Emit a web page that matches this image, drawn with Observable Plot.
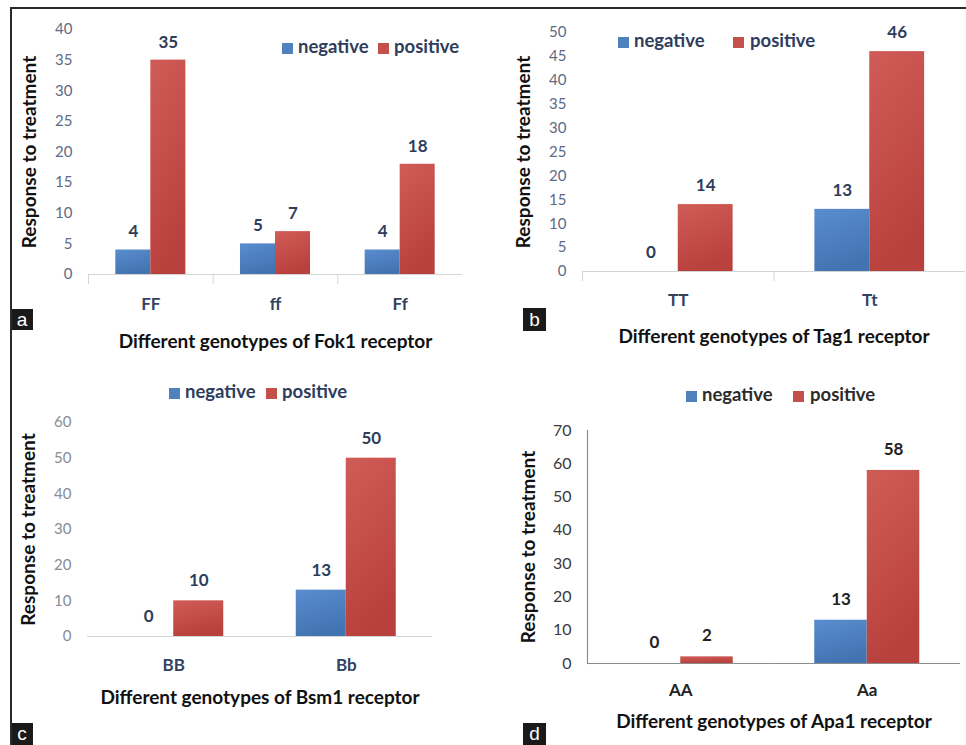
<!DOCTYPE html>
<html>
<head>
<meta charset="utf-8">
<script src="https://cdn.jsdelivr.net/npm/d3@7"></script>
<script src="https://cdn.jsdelivr.net/npm/@observablehq/plot@0.6"></script>
<style>
  html, body { margin: 0; padding: 0; background: #fff; }
  #root { position: relative; width: 966px; height: 745px; overflow: hidden; background: #fff; font-family: Lato, "Open Sans", sans-serif; }
  .panel { position: absolute; }
  .legend { position: absolute; font-weight: bold; font-size: 18.5px; white-space: nowrap; }
  .sw { position: absolute; width: 11px; height: 11px; }
  .lt { position: absolute; line-height: 1; }
  .tag { position: absolute; background: #1a1a1a; color: #fff; font-family: "Liberation Sans", Arial, sans-serif; font-size: 19px; text-align: center; }
  .border { position: absolute; background: #2a2a2a; }
</style>
</head>
<body>
<div id="root"></div>
<script>
// ---------- data ----------
const series = ["negative", "positive"];
const seriesColors = ["#4f81bd", "#c4504c"];
const seriesTop = ["#5a8dcf", "#d05c57"];
const seriesBottom = ["#4374b2", "#b9413d"];

const genotypesA = ["FF", "ff", "Ff"];
const negativeA = [4, 5, 4];
const positiveA = [35, 7, 18];
const ticksA = [0, 5, 10, 15, 20, 25, 30, 35, 40];

const genotypesB = ["TT", "Tt"];
const negativeB = [0, 13];
const positiveB = [14, 46];
const ticksB = [0, 5, 10, 15, 20, 25, 30, 35, 40, 45, 50];

const genotypesC = ["BB", "Bb"];
const negativeC = [0, 13];
const positiveC = [10, 50];
const ticksC = [0, 10, 20, 30, 40, 50, 60];

const genotypesD = ["AA", "Aa"];
const negativeD = [0, 13];
const positiveD = [2, 58];
const ticksD = [0, 10, 20, 30, 40, 50, 60, 70];

const yTitle = "Response to treatment";
const xTitles = [
  "Different genotypes of Fok1 receptor",
  "Different genotypes of Tag1 receptor",
  "Different genotypes of Bsm1 receptor",
  "Different genotypes of Apa1 receptor"
];
const tags = ["a", "b", "c", "d"];

// ---------- layout / style ----------
const panels = [
  {genotypes: genotypesA, neg: negativeA, pos: positiveA, ticks: ticksA,
   left: 0, top: 0, width: 483, height: 360, mL: 88, mR: 21, mT: 29, mB: 86, po: 0.78,
   tickColor: "#5d6a85", tickSize: 15, catColor: "#33425f", valColor: "#2e3d5c", axisColor: "#d4d4d4",
   valDy: -18, catPad: 23, xOff: 73, yOff: 66, sep: true, yLine: false,
   legend: {top: 48, sw1: 282, t1: 298, sw2: 378, t2: 394, color: "#2e3d5c"},
   tag: {x: 11, y: 309, w: 22, h: 21}},
  {genotypes: genotypesB, neg: negativeB, pos: positiveB, ticks: ticksB,
   left: 483, top: 0, width: 483, height: 360, mL: 99, mR: 1, mT: 32, mB: 89, po: 0.745,
   tickColor: "#5d6a85", tickSize: 15, catColor: "#33425f", valColor: "#2e3d5c", axisColor: "#d4d4d4",
   valDy: -19, catPad: 22, xOff: 71, yOff: 66, sep: true, yLine: false,
   legend: {top: 42, sw1: 618, t1: 634, sw2: 733, t2: 750, color: "#2e3d5c"},
   tag: {x: 523, y: 308, w: 23, h: 23}},
  {genotypes: genotypesC, neg: negativeC, pos: positiveC, ticks: ticksC,
   left: 0, top: 360, width: 483, height: 385, mL: 87, mR: 51, mT: 62, mB: 109, po: 0.725,
   tickColor: "#868c98", tickSize: 15, catColor: "#33425f", valColor: "#2e3d5c", axisColor: "#d4d4d4",
   valDy: -20, catPad: 22, xOff: 67, yOff: 66, sep: false, yLine: false,
   legend: {top: 393, sw1: 169, t1: 185, sw2: 266, t2: 282, color: "#2e3d5c"},
   tag: {x: 11, y: 723, w: 22, h: 22}},
  {genotypes: genotypesD, neg: negativeD, pos: positiveD, ticks: ticksD,
   left: 483, top: 360, width: 483, height: 385, mL: 104, mR: 6, mT: 70, mB: 82, po: 0.776,
   tickColor: "#3a3a3a", tickSize: 16, catColor: "#222", valColor: "#222", axisColor: "#8c8c8c",
   valDy: -21, catPad: 20, xOff: 64, yOff: 66, sep: false, yLine: true,
   legend: {top: 396, sw1: 686, t1: 702, sw2: 793, t2: 810, color: "#2b2b2b"},
   tag: {x: 523, y: 723, w: 23, h: 22}}
];

const root = document.getElementById("root");
const SVGNS = "http://www.w3.org/2000/svg";

panels.forEach((p, idx) => {
  const data = p.genotypes.flatMap((g, i) => [
    {g, s: series[0], v: p.neg[i]},
    {g, s: series[1], v: p.pos[i]}
  ]);
  const yMax = p.ticks[p.ticks.length - 1];
  const innerH = p.height - p.mT - p.mB;
  const gradIds = series.map((s, k) => `grad-${idx}-${k}`);
  const marks = [
    Plot.axisY({anchor: "left", ticks: p.ticks, tickSize: 0, tickPadding: 16, fontSize: p.tickSize, fill: p.tickColor, label: null}),
    Plot.axisY({anchor: "left", ticks: [], label: yTitle, labelArrow: "none", labelAnchor: "center", labelOffset: p.yOff, fontSize: 19, fontWeight: "bold", fill: "#111"}),
    Plot.axisFx({anchor: "bottom", tickSize: 0, tickPadding: p.catPad, fontSize: 17, fontWeight: "bold", fill: p.catColor, label: null}),
    Plot.axisFx({anchor: "bottom", ticks: [], label: xTitles[idx], labelArrow: "none", labelAnchor: "center", labelOffset: p.xOff, fontSize: 19, fontWeight: "bold", fill: "#111"}),
    Plot.barY(data, {fx: "g", x: "s", y: "v", fill: "s"}),
    Plot.ruleY([0], {stroke: p.axisColor, strokeWidth: 1.2}),
    Plot.text(data, {fx: "g", x: "s", y: "v", text: d => String(d.v), dy: p.valDy, fontSize: 17, fontWeight: "bold", fill: p.valColor})
  ];
  if (p.sep) marks.push(Plot.frame({anchor: "left", stroke: p.axisColor, insetTop: innerH, insetBottom: -9}));
  if (p.yLine) marks.push(Plot.frame({anchor: "left", stroke: p.axisColor, strokeWidth: 1.2, facet: "super"}));

  const chart = Plot.plot({
    width: p.width, height: p.height,
    marginLeft: p.mL, marginRight: p.mR, marginTop: p.mT, marginBottom: p.mB,
    style: {fontFamily: "Lato, 'Open Sans', sans-serif", background: "transparent", overflow: "visible"},
    fx: {domain: p.genotypes, padding: 0, round: false},
    x: {domain: series, paddingInner: 0, paddingOuter: p.po, round: false, axis: null},
    y: {domain: [0, yMax], round: false},
    color: {domain: series, range: gradIds.map(id => `url(#${id})`)},
    marks
  });
  // gradient definitions for the bar fills
  const defs = document.createElementNS(SVGNS, "defs");
  gradIds.forEach((id, k) => {
    const lg = document.createElementNS(SVGNS, "linearGradient");
    lg.setAttribute("id", id);
    lg.setAttribute("x1", "0"); lg.setAttribute("y1", "0");
    lg.setAttribute("x2", "0.3"); lg.setAttribute("y2", "1");
    [[0, seriesTop[k]], [1, seriesBottom[k]]].forEach(([o, c]) => {
      const st = document.createElementNS(SVGNS, "stop");
      st.setAttribute("offset", o);
      st.setAttribute("stop-color", c);
      lg.appendChild(st);
    });
    defs.appendChild(lg);
  });
  chart.insertBefore(defs, chart.firstChild);
  chart.classList.add("panel");
  chart.style.left = p.left + "px";
  chart.style.top = p.top + "px";
  root.appendChild(chart);

  // legend
  const L = p.legend;
  [[L.sw1, L.t1, 0], [L.sw2, L.t2, 1]].forEach(([sx, tx, k]) => {
    const sw = document.createElement("div");
    sw.className = "sw";
    sw.style.left = sx + "px";
    sw.style.top = (L.top - 5) + "px";
    sw.style.background = seriesColors[k];
    root.appendChild(sw);
    const t = document.createElement("div");
    t.className = "legend lt";
    t.style.left = tx + "px";
    t.style.top = (L.top - 11) + "px";
    t.style.color = L.color;
    t.textContent = series[k];
    root.appendChild(t);
  });

  // panel tag
  const tg = document.createElement("div");
  tg.className = "tag";
  tg.style.left = p.tag.x + "px";
  tg.style.top = p.tag.y + "px";
  tg.style.width = p.tag.w + "px";
  tg.style.height = p.tag.h + "px";
  tg.style.lineHeight = p.tag.h + "px";
  tg.textContent = tags[idx];
  root.appendChild(tg);
});

// outer border (top and left)
const bt = document.createElement("div");
bt.className = "border";
Object.assign(bt.style, {left: "10px", top: "7px", width: "956px", height: "2px"});
root.appendChild(bt);
const bl = document.createElement("div");
bl.className = "border";
Object.assign(bl.style, {left: "10px", top: "7px", width: "2px", height: "738px"});
root.appendChild(bl);
</script>
</body>
</html>
